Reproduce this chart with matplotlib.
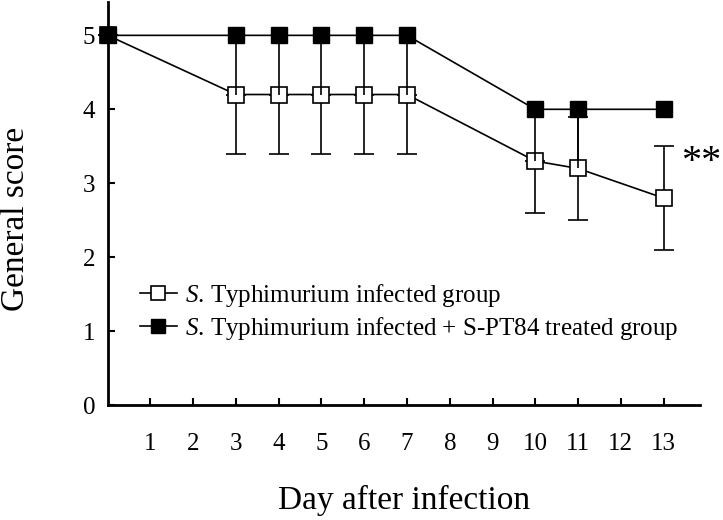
import matplotlib
matplotlib.use("Agg")
import matplotlib.pyplot as plt
from matplotlib.lines import Line2D

plt.rcParams['font.family'] = ['Liberation Serif', 'DejaVu Serif']
plt.rcParams['mathtext.fontset'] = 'custom'
plt.rcParams['mathtext.it'] = 'Liberation Serif:italic'
plt.rcParams['mathtext.rm'] = 'Liberation Serif'

days = [0, 3, 4, 5, 6, 7, 10, 11, 13]
infected = [5, 4.2, 4.2, 4.2, 4.2, 4.2, 3.3, 3.2, 2.8]
infected_err_low = [0, 0.8, 0.8, 0.8, 0.8, 0.8, 0.7, 0.7, 0.7]
infected_err_high = [0, 0, 0, 0, 0, 0, 0, 0.7, 0.7]
treated = [5, 5, 5, 5, 5, 5, 4, 4, 4]
treated_err_low = [0, 0.8, 0.8, 0.8, 0.8, 0.8, 0.7, 0.8, 0]
treated_err_high = [0, 0, 0, 0, 0, 0, 0, 0, 0]
xticks = list(range(1, 14))
yticks = [0, 1, 2, 3, 4, 5]
label_inf = r"$\it{S}$. Typhimurium infected group"
label_trt = r"$\it{S}$. Typhimurium infected + S-PT84 treated group"

fig = plt.figure(figsize=(7.23, 5.2), dpi=100)
ax = fig.add_axes([0.149, 0.221, 0.819, 0.775])

ax.errorbar(days, infected, yerr=[infected_err_low, infected_err_high], color='black',
            lw=1.2, elinewidth=1.2, capsize=7, capthick=1.2, marker='s', ms=11,
            mfc='white', mec='black', mew=1.2, zorder=3, clip_on=False)
ax.errorbar(days, treated, yerr=[treated_err_low, treated_err_high], color='black',
            lw=1.2, elinewidth=1.2, capsize=0, marker='s', ms=11,
            mfc='black', mec='black', zorder=4, clip_on=False)

ax.set_xlim(0, 13.85)
ax.set_ylim(0, 5.45)
ax.set_xticks(xticks)
ax.set_yticks(yticks)
ax.tick_params(axis='both', direction='in', length=5, width=1.5, labelsize=18)
ax.tick_params(axis='x', pad=20)
ax.tick_params(axis='y', pad=9)
for s in ['top', 'right']:
    ax.spines[s].set_visible(False)
for s in ['left', 'bottom']:
    ax.spines[s].set_linewidth(2)

ax.set_xlabel('Day after infection', fontsize=24)
ax.set_ylabel('General score', fontsize=24)
ax.xaxis.set_label_coords(0.5, -0.198)
ax.yaxis.set_label_coords(-0.13, 0.4615)

ax.text(13.42, 3.28, '**', fontsize=29, ha='left', va='center', clip_on=False)

handles = [
    Line2D([], [], color='black', lw=1.2, marker='s', ms=10, mfc='white', mec='black', mew=1.2),
    Line2D([], [], color='black', lw=1.2, marker='s', ms=10, mfc='black', mec='black'),
]
ax.legend(handles, [label_inf, label_trt], loc='center left', bbox_to_anchor=(0.054, 0.231),
          frameon=False, fontsize=18, handlelength=1.5, handletextpad=0.3,
          labelspacing=0.25, borderpad=0, borderaxespad=0)

fig.savefig('out.png', dpi=100)
